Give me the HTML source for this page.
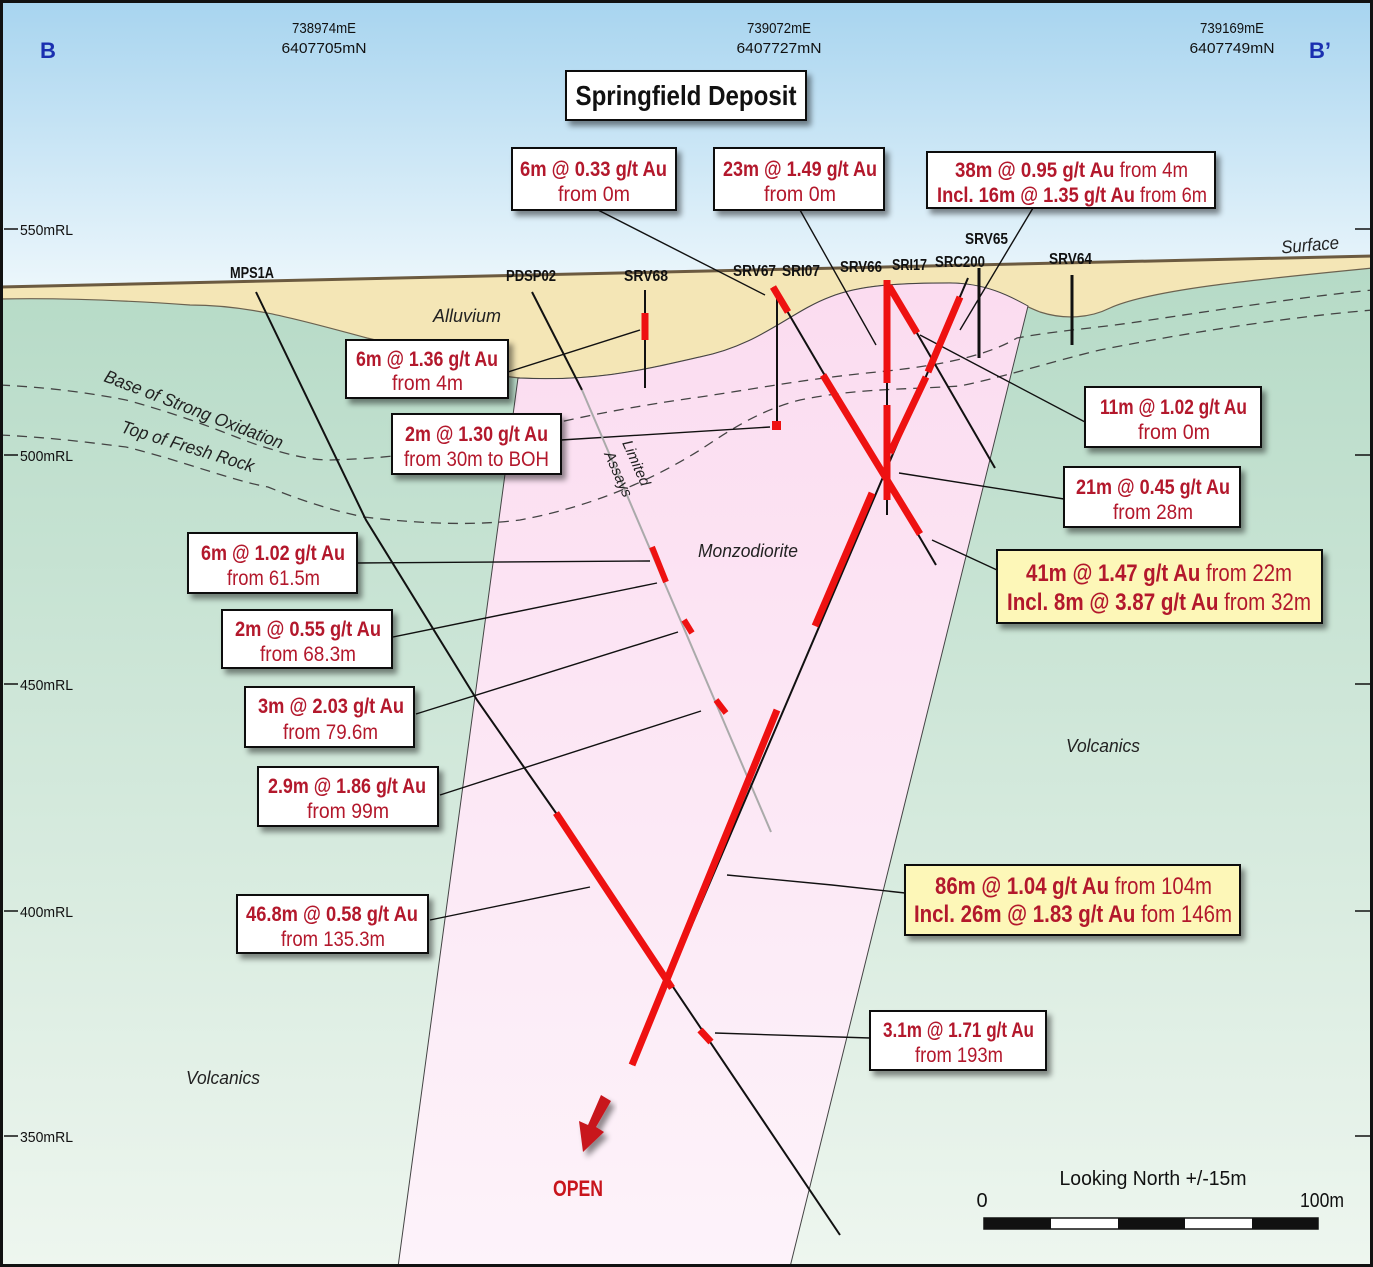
<!DOCTYPE html>
<html><head><meta charset="utf-8"><style>
html,body{margin:0;padding:0;background:#fff}
svg{display:block}
text{font-family:"Liberation Sans Narrow","Liberation Sans",sans-serif}
.hl{font-weight:bold;font-size:16px;fill:#111}
.rl{font-size:15px;fill:#111}
.b1{font-weight:bold;font-size:21px;fill:#b3182c}
.b2{font-size:21px;fill:#b3182c}
.big{font-size:24px}
.it{font-style:italic;font-size:18px;fill:#222}
.lead{stroke:#111;stroke-width:1.4;fill:none}
.box{fill:#fff;stroke:#111;stroke-width:2}
.ybox{fill:#fdf7b8;stroke:#111;stroke-width:2}
.red{stroke:#ee1111;stroke-width:7;fill:none}
.hole{stroke:#111;stroke-width:2;fill:none}
</style></head><body>
<svg width="1373" height="1267" viewBox="0 0 1373 1267" xmlns="http://www.w3.org/2000/svg">
<defs>
<linearGradient id="sky" x1="0" y1="0" x2="0" y2="1"><stop offset="0" stop-color="#a7d4ef"/><stop offset="1" stop-color="#eff8fc"/></linearGradient>
<linearGradient id="grn" x1="0" y1="0" x2="0" y2="1"><stop offset="0" stop-color="#b5dac6"/><stop offset="1" stop-color="#eef6ef"/></linearGradient>
<linearGradient id="pnk" x1="0" y1="0" x2="0" y2="1"><stop offset="0" stop-color="#fbdcf0"/><stop offset="1" stop-color="#fdf3fa"/></linearGradient>
<filter id="sh" x="-10%" y="-10%" width="130%" height="140%"><feDropShadow dx="4" dy="5" stdDeviation="3" flood-color="#000" flood-opacity="0.45"/></filter>
</defs>
<rect x="0" y="0" width="1373" height="300" fill="url(#sky)"/>
<path d="M0,287 L1373,256 L1373,1267 L0,1267 Z" fill="url(#grn)"/>
<!-- alluvium -->
<path d="M0,287 L1373,257 L1373,268 C1250,280 1150,290 1110,308 C1090,318 1065,320 1040,312 C1010,300 985,283 950,283 C900,283 860,285 830,297 C790,312 760,345 700,357 C650,368 600,382 520,378 C470,374 420,350 367,338 C300,320 250,305 190,305 C120,300 50,298 0,299 Z" fill="#f4e6b6"/>
<path d="M0,299 C50,298 120,300 190,305 C250,305 300,320 367,338 C420,350 470,374 520,378 C600,382 650,368 700,357 C760,345 790,312 830,297 C860,285 900,283 950,283 C985,283 1010,300 1040,312 C1065,320 1090,318 1110,308 C1150,290 1250,280 1373,268" fill="none" stroke="#6b6250" stroke-width="1.2"/>
<!-- pink -->
<path d="M518,378 C600,382 650,368 700,357 C760,345 790,312 830,297 C860,285 900,283 950,283 C985,283 1010,296 1028,306 L790,1267 L398,1267 Z" fill="url(#pnk)" stroke="#444" stroke-width="1"/>
<!-- dashed lines -->
<path d="M0,385 C60,388 100,395 126,400 C200,420 240,440 264,447 C290,455 310,460 330,460 C400,458 450,450 520,432 C600,410 700,397 700,397 C760,388 800,380 867,373 C920,368 980,360 1017,338 C1060,330 1100,328 1150,320 C1250,305 1320,295 1373,290" fill="none" stroke="#444" stroke-width="1.3" stroke-dasharray="10,7"/>
<path d="M0,435 C60,438 100,444 126,447 C180,460 230,480 268,487 C300,500 330,510 364,517 C430,525 480,525 520,520 C600,505 660,475 700,450 C730,430 760,410 800,400 C860,388 900,390 960,386 C1000,378 1050,362 1100,350 C1200,330 1300,316 1373,310" fill="none" stroke="#444" stroke-width="1.3" stroke-dasharray="10,7"/>
<!-- surface -->
<line x1="0" y1="287" x2="1373" y2="256" stroke="#6b5a40" stroke-width="3"/>
<!-- leaders -->
<line class="lead" x1="598" y1="210" x2="765" y2="295"/>
<line class="lead" x1="800" y1="210" x2="876" y2="345"/>
<line class="lead" x1="1033" y1="208" x2="960" y2="330"/>
<line class="lead" x1="1085" y1="422" x2="920" y2="335"/>
<line class="lead" x1="1064" y1="499" x2="899" y2="473"/>
<line class="lead" x1="997" y1="570" x2="932" y2="540"/>
<line class="lead" x1="508" y1="372" x2="640" y2="330"/>
<line class="lead" x1="561" y1="440" x2="770" y2="427"/>
<line class="lead" x1="357" y1="563" x2="650" y2="561"/>
<line class="lead" x1="393" y1="637" x2="657" y2="583"/>
<line class="lead" x1="416" y1="714" x2="678" y2="632"/>
<line class="lead" x1="440" y1="795" x2="701" y2="711"/>
<line class="lead" x1="430" y1="920" x2="590" y2="887"/>
<polyline class="lead" points="727,875 832,885 905,893"/>
<line class="lead" x1="870" y1="1038" x2="715" y2="1033"/>
<!-- holes -->
<polyline class="hole" points="256,292 366,520 477,700 556,813 840,1235"/>
<line class="hole" x1="532" y1="292" x2="582" y2="390"/>
<line x1="582" y1="390" x2="771" y2="832" stroke="#aaa" stroke-width="2"/>
<line class="hole" x1="645" y1="290" x2="645" y2="388"/>
<line class="hole" x1="777" y1="292" x2="777" y2="425"/>
<line class="hole" x1="773" y1="287" x2="936" y2="565"/>
<line class="hole" x1="887" y1="280" x2="887" y2="515"/>
<line class="hole" x1="888" y1="283" x2="995" y2="468"/>
<line class="hole" x1="968" y1="278" x2="632" y2="1065"/>
<line x1="979" y1="268" x2="979" y2="358" stroke="#111" stroke-width="3"/>
<line x1="1072" y1="275" x2="1072" y2="345" stroke="#111" stroke-width="3"/>
<!-- red intercepts -->
<line class="red" x1="645" y1="313" x2="645" y2="340"/>
<rect x="772" y="421" width="9" height="9" fill="#ee1111"/>
<line class="red" x1="773" y1="287" x2="788" y2="312"/>
<line class="red" x1="823" y1="375" x2="920" y2="534"/>
<line class="red" x1="887" y1="280" x2="887" y2="383"/>
<line class="red" x1="887" y1="405" x2="887" y2="500"/>
<line class="red" x1="889" y1="286" x2="917" y2="333"/>
<line class="red" x1="960" y1="297" x2="928" y2="372"/>
<line class="red" x1="926" y1="377" x2="890" y2="453"/>
<line class="red" x1="872" y1="493" x2="815" y2="626"/>
<line class="red" x1="777" y1="710" x2="632" y2="1065"/>
<line class="red" x1="556" y1="813" x2="672" y2="988"/>
<line class="red" x1="700" y1="1030" x2="711" y2="1042"/>
<line x1="652" y1="547" x2="666" y2="582" stroke="#ee1111" stroke-width="6"/>
<line x1="684" y1="620" x2="692" y2="633" stroke="#ee1111" stroke-width="6"/>
<line x1="716" y1="700" x2="726" y2="713" stroke="#ee1111" stroke-width="6"/>
<!-- geology labels -->
<text class="it" x="433" y="322" textLength="68" lengthAdjust="spacingAndGlyphs">Alluvium</text>
<text class="it" x="698" y="557" textLength="100" lengthAdjust="spacingAndGlyphs">Monzodiorite</text>
<text class="it" x="1066" y="752" textLength="74" lengthAdjust="spacingAndGlyphs">Volcanics</text>
<text class="it" x="186" y="1084" textLength="74" lengthAdjust="spacingAndGlyphs">Volcanics</text>
<text class="it" x="1281" y="251" textLength="58" lengthAdjust="spacingAndGlyphs" transform="rotate(-5 1310 244)">Surface</text>
<text class="it" transform="translate(103,381) rotate(21)" textLength="190" lengthAdjust="spacingAndGlyphs">Base of Strong Oxidation</text>
<text class="it" transform="translate(120,432) rotate(17)" textLength="138" lengthAdjust="spacingAndGlyphs">Top of Fresh Rock</text>
<text class="it" style="font-size:15px" transform="translate(622,443) rotate(66)">Limited</text>
<text class="it" style="font-size:15px" transform="translate(604,454) rotate(66)">Assays</text>
<!-- hole labels -->
<text class="hl" x="230" y="278" textLength="44" lengthAdjust="spacingAndGlyphs">MPS1A</text>
<text class="hl" x="506" y="281" textLength="50" lengthAdjust="spacingAndGlyphs">PDSP02</text>
<text class="hl" x="624" y="281" textLength="44" lengthAdjust="spacingAndGlyphs">SRV68</text>
<text class="hl" x="733" y="276" textLength="43" lengthAdjust="spacingAndGlyphs">SRV67</text>
<text class="hl" x="782" y="276" textLength="38" lengthAdjust="spacingAndGlyphs">SRI07</text>
<text class="hl" x="840" y="272" textLength="42" lengthAdjust="spacingAndGlyphs">SRV66</text>
<text class="hl" x="892" y="270" textLength="35" lengthAdjust="spacingAndGlyphs">SRI17</text>
<text class="hl" x="935" y="267" textLength="50" lengthAdjust="spacingAndGlyphs">SRC200</text>
<text class="hl" x="965" y="244" textLength="43" lengthAdjust="spacingAndGlyphs">SRV65</text>
<text class="hl" x="1049" y="264" textLength="43" lengthAdjust="spacingAndGlyphs">SRV64</text>
<!-- header -->
<text x="48" y="58" text-anchor="middle" style="font-weight:bold;font-size:22px;fill:#1a2fb0">B</text>
<text x="1320" y="58" text-anchor="middle" style="font-weight:bold;font-size:22px;fill:#1a2fb0">B’</text>
<g class="rl" text-anchor="middle" style="font-size:15px">
<text x="324" y="33" textLength="64" lengthAdjust="spacingAndGlyphs">738974mE</text><text x="324" y="53" textLength="85" lengthAdjust="spacingAndGlyphs">6407705mN</text>
<text x="779" y="33" textLength="64" lengthAdjust="spacingAndGlyphs">739072mE</text><text x="779" y="53" textLength="85" lengthAdjust="spacingAndGlyphs">6407727mN</text>
<text x="1232" y="33" textLength="64" lengthAdjust="spacingAndGlyphs">739169mE</text><text x="1232" y="53" textLength="85" lengthAdjust="spacingAndGlyphs">6407749mN</text>
</g>
<g stroke="#111" stroke-width="1.5">
<line x1="4" y1="229" x2="18" y2="229"/><line x1="4" y1="455" x2="18" y2="455"/><line x1="4" y1="684" x2="18" y2="684"/><line x1="4" y1="911" x2="18" y2="911"/><line x1="4" y1="1136" x2="18" y2="1136"/>
<line x1="1355" y1="229" x2="1370" y2="229"/><line x1="1355" y1="455" x2="1370" y2="455"/><line x1="1355" y1="684" x2="1370" y2="684"/><line x1="1355" y1="911" x2="1370" y2="911"/><line x1="1355" y1="1136" x2="1370" y2="1136"/>
</g>
<g class="rl"><text x="20" y="235" textLength="53" lengthAdjust="spacingAndGlyphs">550mRL</text><text x="20" y="461" textLength="53" lengthAdjust="spacingAndGlyphs">500mRL</text><text x="20" y="690" textLength="53" lengthAdjust="spacingAndGlyphs">450mRL</text><text x="20" y="917" textLength="53" lengthAdjust="spacingAndGlyphs">400mRL</text><text x="20" y="1142" textLength="53" lengthAdjust="spacingAndGlyphs">350mRL</text></g>
<!-- title -->
<rect x="566" y="71" width="240" height="49" class="box" filter="url(#sh)"/>
<text x="686" y="105" text-anchor="middle" textLength="221" lengthAdjust="spacingAndGlyphs" style="font-weight:bold;font-size:28px;fill:#111">Springfield Deposit</text>
<!-- boxes -->
<g filter="url(#sh)">
<rect class="box" x="512" y="148" width="164" height="62"/>
<rect class="box" x="714" y="148" width="170" height="62"/>
<rect class="box" x="927" y="152" width="288" height="56"/>
<rect class="box" x="1085" y="387" width="176" height="60"/>
<rect class="box" x="1064" y="467" width="176" height="60"/>
<rect class="ybox" x="997" y="550" width="325" height="73"/>
<rect class="box" x="346" y="340" width="162" height="58"/>
<rect class="box" x="392" y="414" width="169" height="60"/>
<rect class="box" x="188" y="533" width="169" height="60"/>
<rect class="box" x="222" y="610" width="170" height="58"/>
<rect class="box" x="245" y="687" width="169" height="60"/>
<rect class="box" x="258" y="767" width="180" height="59"/>
<rect class="box" x="237" y="895" width="191" height="58"/>
<rect class="ybox" x="905" y="865" width="335" height="70"/>
<rect class="box" x="870" y="1011" width="176" height="59"/>
</g>
<text class="b1" x="520" y="176" textLength="147" lengthAdjust="spacingAndGlyphs">6m @ 0.33 g/t Au</text>
<text class="b2" x="558" y="201" textLength="72" lengthAdjust="spacingAndGlyphs">from 0m</text>
<text class="b1" x="723" y="176" textLength="154" lengthAdjust="spacingAndGlyphs">23m @ 1.49 g/t Au</text>
<text class="b2" x="764" y="201" textLength="72" lengthAdjust="spacingAndGlyphs">from 0m</text>
<text class="b1" x="955" y="177" textLength="233" lengthAdjust="spacingAndGlyphs">38m @ 0.95 g/t Au <tspan style="font-weight:normal">from 4m</tspan></text>
<text class="b1" x="937" y="202" textLength="270" lengthAdjust="spacingAndGlyphs">Incl. 16m @ 1.35 g/t Au <tspan style="font-weight:normal">from 6m</tspan></text>
<text class="b1" x="1100" y="414" textLength="147" lengthAdjust="spacingAndGlyphs">11m @ 1.02 g/t Au</text>
<text class="b2" x="1138" y="439" textLength="72" lengthAdjust="spacingAndGlyphs">from 0m</text>
<text class="b1" x="1076" y="494" textLength="154" lengthAdjust="spacingAndGlyphs">21m @ 0.45 g/t Au</text>
<text class="b2" x="1113" y="519" textLength="80" lengthAdjust="spacingAndGlyphs">from 28m</text>
<text class="b1 big" x="1026" y="581" textLength="266" lengthAdjust="spacingAndGlyphs">41m @ 1.47 g/t Au <tspan style="font-weight:normal">from 22m</tspan></text>
<text class="b1 big" x="1007" y="610" textLength="304" lengthAdjust="spacingAndGlyphs">Incl. 8m @ 3.87 g/t Au <tspan style="font-weight:normal">from 32m</tspan></text>
<text class="b1" x="356" y="366" textLength="142" lengthAdjust="spacingAndGlyphs">6m @ 1.36 g/t Au</text>
<text class="b2" x="392" y="390" textLength="71" lengthAdjust="spacingAndGlyphs">from 4m</text>
<text class="b1" x="405" y="441" textLength="143" lengthAdjust="spacingAndGlyphs">2m @ 1.30 g/t Au</text>
<text class="b2" x="404" y="466" textLength="145" lengthAdjust="spacingAndGlyphs">from 30m to BOH</text>
<text class="b1" x="201" y="560" textLength="144" lengthAdjust="spacingAndGlyphs">6m @ 1.02 g/t Au</text>
<text class="b2" x="227" y="585" textLength="93" lengthAdjust="spacingAndGlyphs">from 61.5m</text>
<text class="b1" x="235" y="636" textLength="146" lengthAdjust="spacingAndGlyphs">2m @ 0.55 g/t Au</text>
<text class="b2" x="260" y="661" textLength="96" lengthAdjust="spacingAndGlyphs">from 68.3m</text>
<text class="b1" x="258" y="713" textLength="146" lengthAdjust="spacingAndGlyphs">3m @ 2.03 g/t Au</text>
<text class="b2" x="283" y="739" textLength="95" lengthAdjust="spacingAndGlyphs">from 79.6m</text>
<text class="b1" x="268" y="793" textLength="158" lengthAdjust="spacingAndGlyphs">2.9m @ 1.86 g/t Au</text>
<text class="b2" x="307" y="818" textLength="82" lengthAdjust="spacingAndGlyphs">from 99m</text>
<text class="b1" x="246" y="921" textLength="172" lengthAdjust="spacingAndGlyphs">46.8m @ 0.58 g/t Au</text>
<text class="b2" x="281" y="946" textLength="104" lengthAdjust="spacingAndGlyphs">from 135.3m</text>
<text class="b1 big" x="935" y="894" textLength="277" lengthAdjust="spacingAndGlyphs">86m @ 1.04 g/t Au <tspan style="font-weight:normal">from 104m</tspan></text>
<text class="b1 big" x="914" y="922" textLength="318" lengthAdjust="spacingAndGlyphs">Incl. 26m @ 1.83  g/t Au <tspan style="font-weight:normal">fom 146m</tspan></text>
<text class="b1" x="883" y="1037" textLength="151" lengthAdjust="spacingAndGlyphs">3.1m @ 1.71 g/t Au</text>
<text class="b2" x="915" y="1062" textLength="88" lengthAdjust="spacingAndGlyphs">from 193m</text>
<!-- open arrow -->
<polygon points="601,1095 611,1101 596,1127 604,1132 583,1152 579,1121 588,1125" fill="#c8141c" filter="url(#sh)"/>
<text x="578" y="1196" text-anchor="middle" textLength="50" lengthAdjust="spacingAndGlyphs" style="font-weight:bold;font-size:22px;fill:#c8141c">OPEN</text>
<!-- scale -->
<text x="1153" y="1185" text-anchor="middle" textLength="187" lengthAdjust="spacingAndGlyphs" style="font-size:20px;fill:#111">Looking North +/-15m</text>
<text x="982" y="1207" text-anchor="middle" style="font-size:20px;fill:#111">0</text>
<text x="1322" y="1207" text-anchor="middle" textLength="44" lengthAdjust="spacingAndGlyphs" style="font-size:20px;fill:#111">100m</text>
<rect x="984" y="1218" width="334" height="11" fill="#fff" stroke="#111" stroke-width="1.5"/>
<rect x="984" y="1218" width="67" height="11" fill="#111"/>
<rect x="1118" y="1218" width="67" height="11" fill="#111"/>
<rect x="1252" y="1218" width="66" height="11" fill="#111"/>
<!-- frame -->
<rect x="1.5" y="1.5" width="1370" height="1264" fill="none" stroke="#111" stroke-width="3"/>
</svg>
</body></html>
